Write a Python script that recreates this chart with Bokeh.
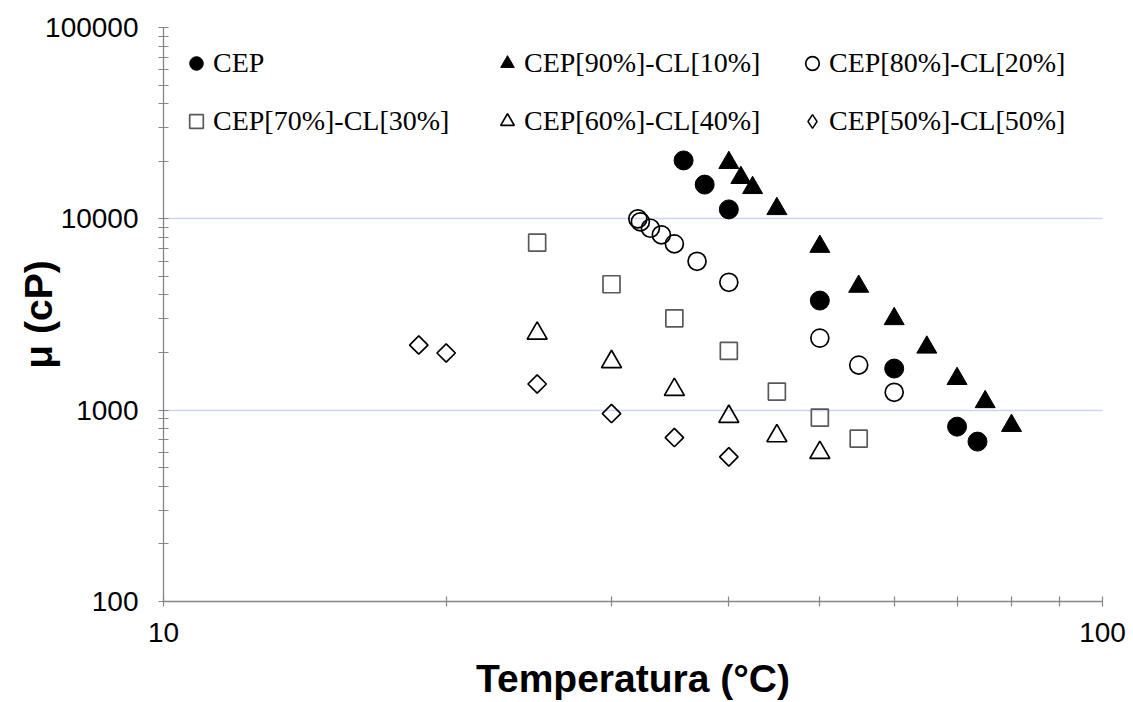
import numpy as np
from bokeh.plotting import figure
from bokeh.models import (FixedTicker, Legend, LegendItem, Range1d,
                          ColumnDataSource)
from bokeh.embed import file_html
from bokeh.resources import INLINE

# ---------------- data ----------------
series_names = ["CEP", "CEP[90%]-CL[10%]", "CEP[80%]-CL[20%]",
                "CEP[70%]-CL[30%]", "CEP[60%]-CL[40%]", "CEP[50%]-CL[50%]"]

cep_t = [35.8, 37.7, 40, 50, 60, 70, 73.6]
cep_mu = [20200, 15100, 11200, 3740, 1650, 820, 685]

cep90_t = [40, 41.2, 42.4, 45, 50, 55, 60, 65, 70, 75, 80]
cep90_mu = [19650, 16400, 14530, 11280, 7160, 4430, 3000, 2130, 1460, 1105, 830]

cep80_t = [32, 32.2, 33, 33.9, 35, 37, 40, 50, 55, 60]
cep80_mu = [10000, 9650, 8930, 8250, 7400, 6000, 4660, 2380, 1720, 1240]

cep70_t = [25, 30, 35, 40, 45, 50, 55]
cep70_mu = [7510, 4550, 3020, 2040, 1250, 915, 710]

cep60_t = [25, 30, 35, 40, 45, 50]
cep60_mu = [2520, 1790, 1280, 926, 733, 600]

cep50_t = [18.7, 20, 25, 30, 35, 40]
cep50_mu = [2190, 1990, 1370, 960, 719, 570]

x_ticks = [10, 100]
x_tick_labels = ["10", "100"]
y_ticks = [100, 1000, 10000, 100000]
y_tick_labels = ["100", "1000", "10000", "100000"]

x_title = "Temperatura (°C)"
y_title = "μ (cP)"

# ---------------- figure ----------------
p = figure(width=1133, height=702, x_axis_type="log", y_axis_type="log",
           x_range=Range1d(10, 100), y_range=Range1d(100, 100000),
           output_backend="svg", toolbar_location=None,
           min_border_left=163, min_border_right=31,
           min_border_top=27, min_border_bottom=101)
p.outline_line_color = None
p.background_fill_color = "white"
p.border_fill_color = "white"

axis_col = "#868686"
x_minor = [k * 10 for k in range(2, 10)]
y_minor = [k * 10 ** d for d in (2, 3, 4) for k in range(2, 10)]

p.xaxis.ticker = FixedTicker(ticks=x_ticks, minor_ticks=x_minor)
p.yaxis.ticker = FixedTicker(ticks=y_ticks, minor_ticks=y_minor)
p.xaxis.major_label_overrides = {t: s for t, s in zip(x_ticks, x_tick_labels)}
p.yaxis.major_label_overrides = {t: s for t, s in zip(y_ticks, y_tick_labels)}

for ax in (p.xaxis, p.yaxis):
    ax.axis_line_color = axis_col
    ax.axis_line_width = 1.3
    ax.major_tick_line_color = axis_col
    ax.minor_tick_line_color = axis_col
    ax.major_tick_line_width = 1.2
    ax.minor_tick_line_width = 1.2
    ax.major_tick_in = 5
    ax.major_tick_out = 5
    ax.minor_tick_in = 5
    ax.minor_tick_out = 5
    ax.major_label_text_font = "Liberation Sans"
    ax.major_label_text_font_size = "28px"
    ax.major_label_text_color = "black"
    ax.axis_label_text_font = "Liberation Sans"
    ax.axis_label_text_font_style = "bold"
    ax.axis_label_text_font_size = "39px"
    ax.axis_label_text_color = "black"

p.xaxis.major_label_standoff = 16
p.yaxis.major_label_standoff = 20
p.xaxis.axis_label = x_title
p.yaxis.axis_label = y_title
p.xaxis.axis_label_standoff = 12
p.yaxis.axis_label_standoff = -18

grid_col = "#c9d7ee"
p.xgrid.ticker = FixedTicker(ticks=x_ticks)
p.ygrid.ticker = FixedTicker(ticks=y_ticks)
p.xgrid.grid_line_color = grid_col
p.ygrid.grid_line_color = grid_col
p.xgrid.grid_line_width = 1.3
p.ygrid.grid_line_width = 1.3

# ---------------- series ----------------
lw = 1.7
r0 = p.scatter(cep_t, cep_mu, marker="circle", size=19,
               fill_color="black", line_color="black")
r1 = p.scatter(cep90_t, cep90_mu, marker="triangle", size=20,
               fill_color="black", line_color="black")
r2 = p.scatter(cep80_t, cep80_mu, marker="circle", size=18,
               fill_color=None, line_color="black", line_width=lw)
r3 = p.scatter(cep70_t, cep70_mu, marker="square", size=17,
               fill_color=None, line_color="#595959", line_width=lw)
r4 = p.scatter(cep60_t, cep60_mu, marker="triangle", size=20,
               fill_color=None, line_color="black", line_width=lw)
src50 = ColumnDataSource(data=dict(t=cep50_t, mu=cep50_mu))
r5 = p.scatter("t", "mu", source=src50, marker="square", size=13, angle=np.pi / 4,
               fill_color=None, line_color="black", line_width=lw)

# Legend key for the diamond series: legend glyphs are drawn unrotated, so a
# "diamond" marker on the same data serves as key; it is mapped through an
# off-screen range so nothing extra appears in the plot area.
p.extra_x_ranges = {"key": Range1d(1e6, 1e7)}
r5_key = p.scatter("t", "mu", source=src50, marker="diamond", size=18,
                   x_range_name="key",
                   fill_color=None, line_color="black", line_width=1.5)

legend_renderers = [r0, r1, r2, r3, r4, r5_key]

# ---------------- legend: three columns of two rows ----------------
col_x = [16, 327, 632]
for c in range(3):
    items = [LegendItem(label=series_names[c], renderers=[legend_renderers[c]]),
             LegendItem(label=series_names[c + 3], renderers=[legend_renderers[c + 3]])]
    leg = Legend(items=items, location=(col_x[c], 460), orientation="vertical",
                 border_line_color=None, background_fill_alpha=0,
                 padding=0, margin=0, spacing=18,
                 glyph_width=34, glyph_height=40, label_height=40,
                 label_standoff=0,
                 label_text_font="Liberation Serif",
                 label_text_font_size="28px", label_text_color="black")
    p.add_layout(leg, "center")

open("out.html", "w").write(file_html(p, INLINE))
